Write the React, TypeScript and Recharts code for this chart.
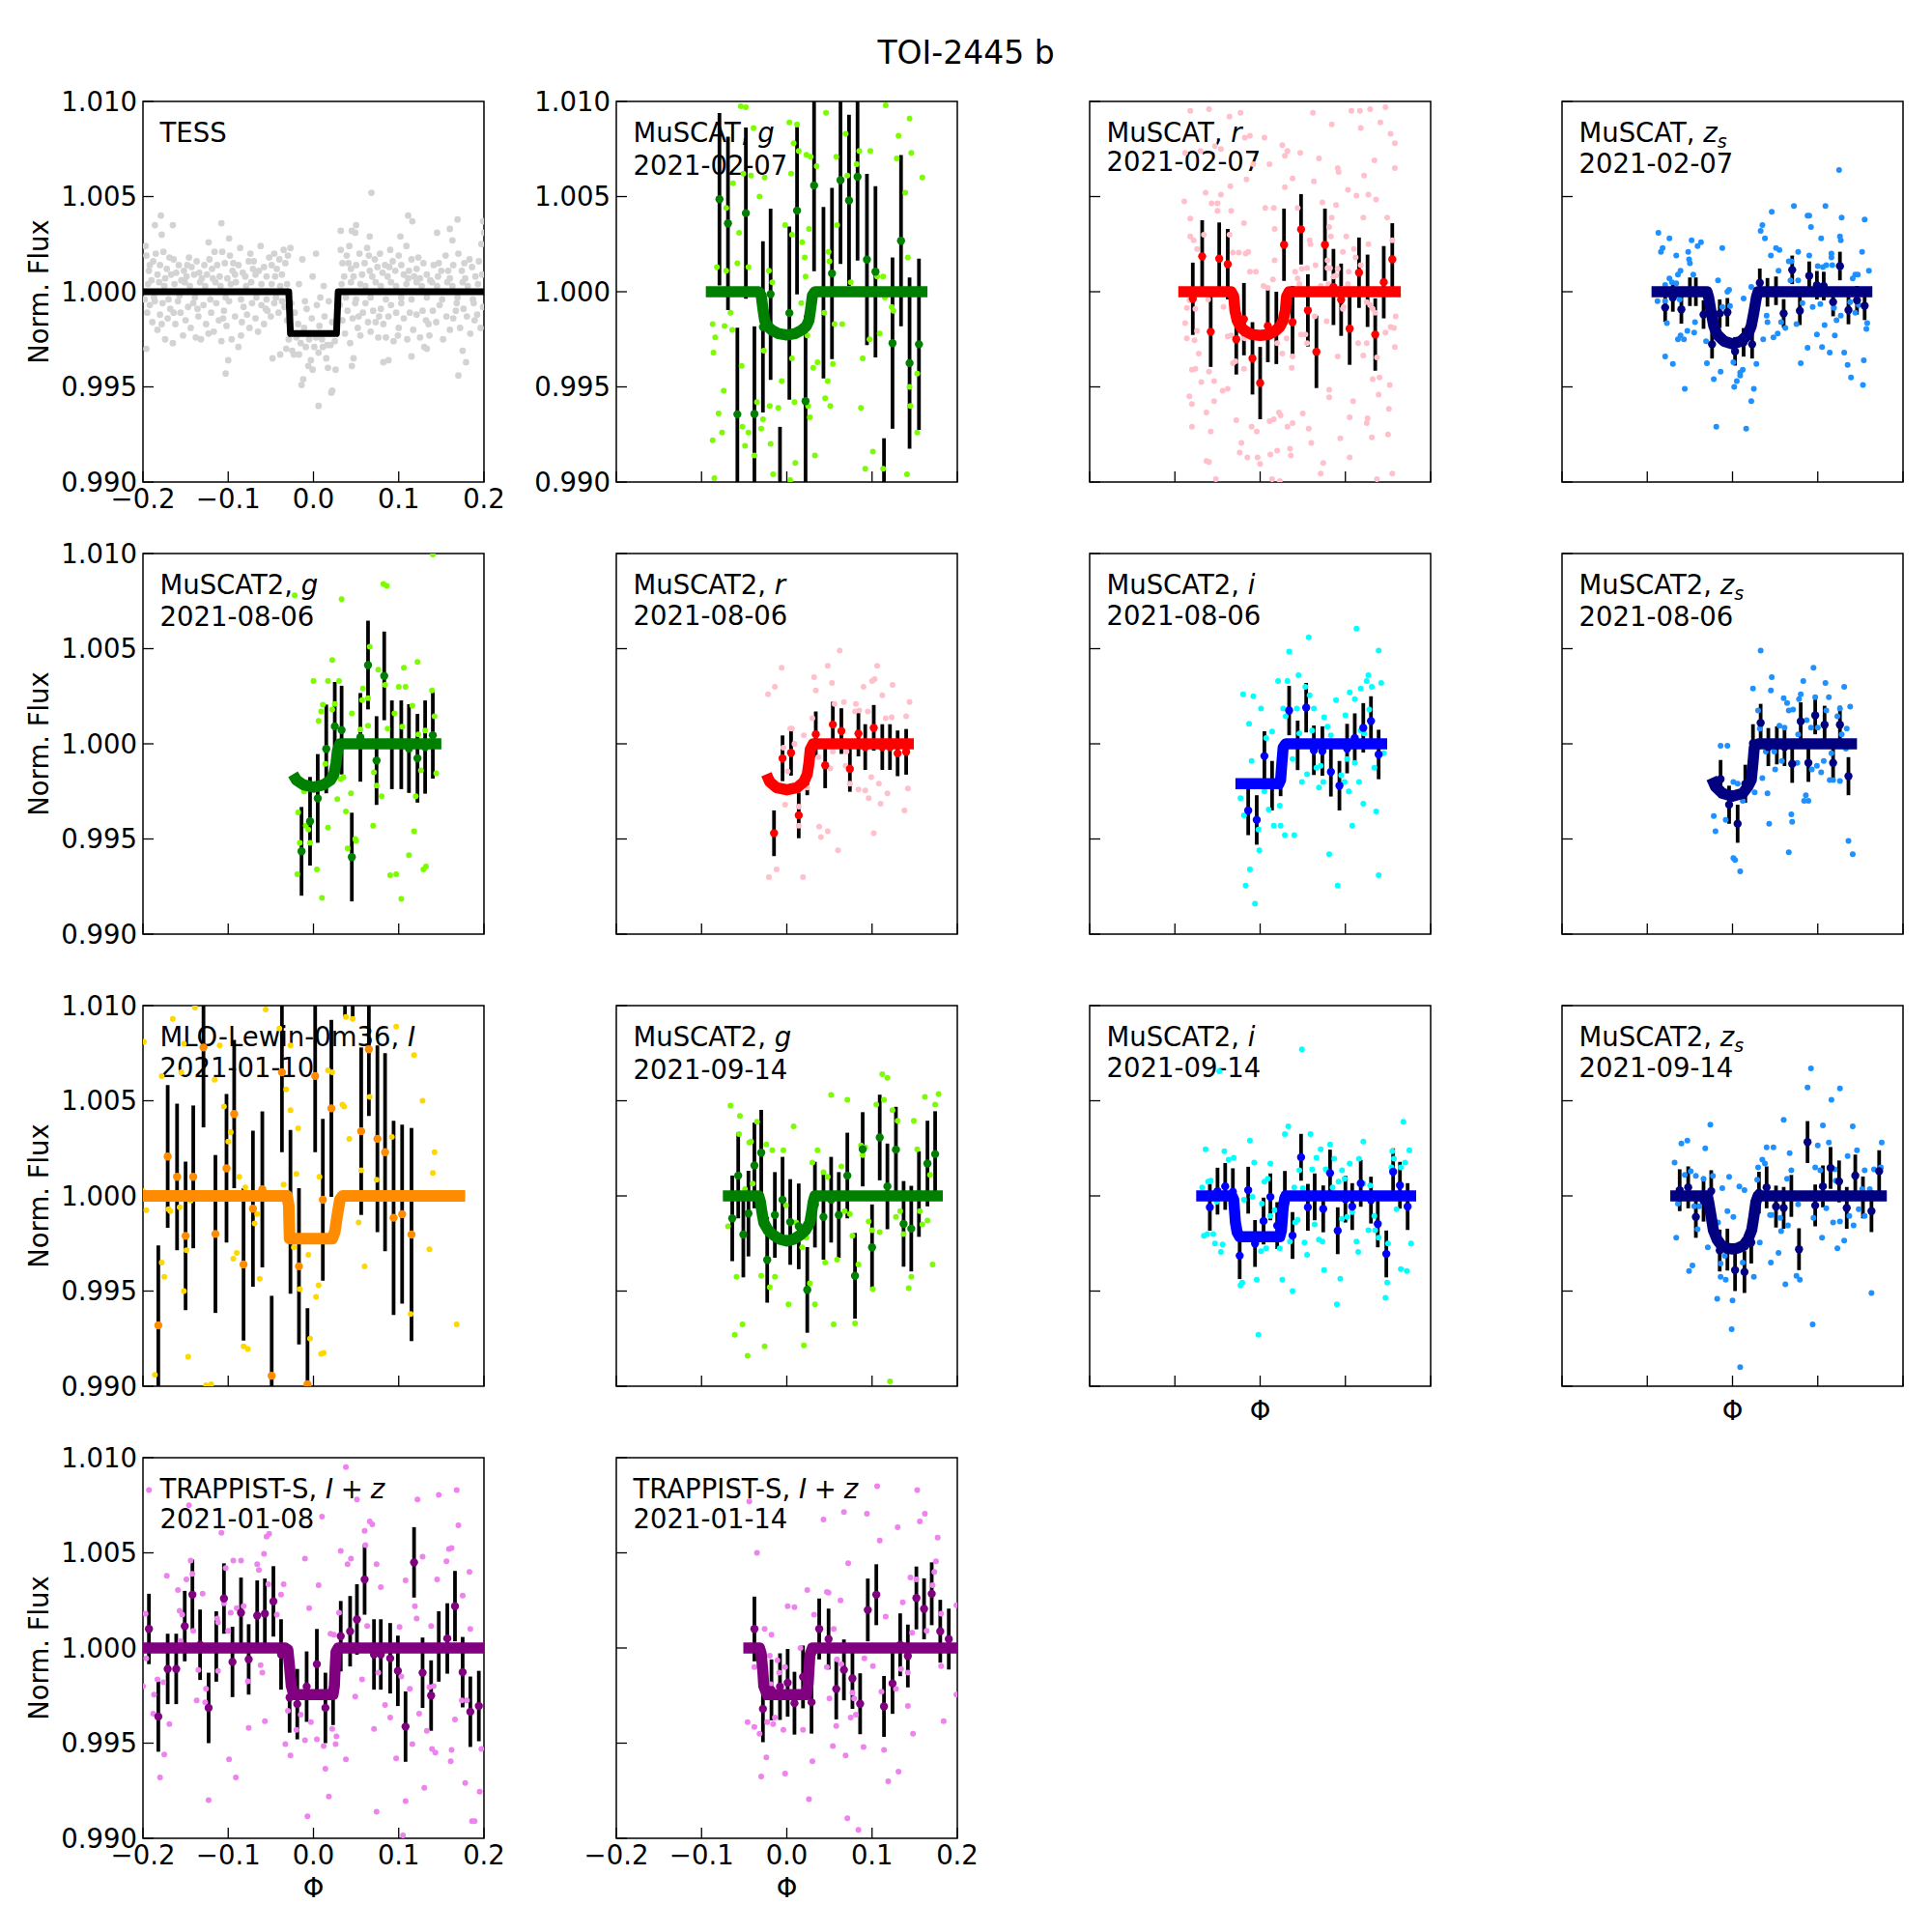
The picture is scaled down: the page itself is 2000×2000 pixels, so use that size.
import React from "react";
import { ComposedChart, Scatter, Line, XAxis, YAxis, ErrorBar, ReferenceArea } from "recharts";

// phase in units of 0.001, flux offset from 1 in parts per thousand
const tessRaw = [[68,5.2],[-179,4.0],[-186,3.5],[-165,3.5],[-178,3.0],[-108,3.6],[-99,2.8],[-123,2.6],[111,4.0],[116,3.7],[169,3.8],[160,3.3],[145,3.1],[50,3.5],[45,3.2],[49,3.1],[32,3.2],[66,2.9],[102,2.9],[163,2.7],[199,3.7],[200,3.1],[197,2.5],
[-100,-3.6],[-103,-4.3],[6,-6],[22,-5.2],[21,-5.3],[-12,-4.6],[-14,-4.9],[170,-4.4],[179,-3.7],[175,-3.1],[-196,-3],[-48,-3.5],[-39,-3.3],[-32,-3.0],[-25,-3.1],[-23,-3.3],[-6,-3.9],[-3,-3.6],[-1,-4.1],[15,-3.5],[26,-4.1],[17,-4.0],[45,-3.9],[47,-3.5],[82,-3.7],[88,-3.6],[130,-2.9],[115,-3.4],[133,-3.0],
[-197,2.4],[-196,1.9],[-193,1.1],[-190,0.6],[-188,1.6],[-185,2.0],[-183,0.9],[-180,1.4],[-176,2.1],[-174,0.7],[-172,1.2],[-169,1.8],[-167,0.9],[-164,1.7],[-161,1.0],[-158,1.4],[-155,0.6],[-152,1.1],[-149,0.8],[-146,1.8],[-143,1.3],[-140,0.9],[-137,1.6],[-134,1.0],[-131,0.7],[-128,1.4],[-125,0.9],[-122,1.7],[-119,1.2],[-116,2.1],[-113,1.4],[-110,0.8],[-107,2.1],[-104,1.5],[-101,0.7],[-98,1.9],[-95,1.1],[-92,0.9],[-88,1.4],[-86,2.3],[-83,1.0],[-80,0.8],[-76,1.6],[-74,2.0],[-71,1.2],[-68,0.9],[-64,1.1],[-62,2.4],[-58,1.3],[-55,0.8],[-52,1.8],[-49,1.4],[-46,2.0],[-43,1.2],[-40,1.7],[-37,0.9],
[32,2.2],[34,1.5],[36,0.8],[39,1.9],[42,2.4],[44,1.2],[47,0.8],[50,1.4],[54,2.0],[57,0.9],[60,1.5],[63,2.3],[66,1.1],[69,0.8],[72,1.7],[75,1.3],[78,2.0],[81,1.0],[84,1.4],[87,0.8],[90,2.2],[93,1.6],[96,1.1],[100,1.9],[103,1.4],[106,0.9],[109,2.4],[112,1.1],[115,1.7],[118,0.8],[121,1.2],[125,0.7],[129,1.5],[133,0.9],[137,0.6],[141,1.4],[146,0.8],[150,1.1],[155,1.9],[160,0.7],[164,1.4],[170,2.0],[174,1.1],[178,0.7],[183,1.7],[186,1.3],[190,0.8],[194,1.6],[198,0.9],
[-198,-0.4],[-195,-1.1],[-192,-0.7],[-189,-1.6],[-186,-0.5],[-183,-2.0],[-180,-1.2],[-177,-0.6],[-174,-2.5],[-171,-1.4],[-168,-0.9],[-165,-2.7],[-162,-1.7],[-159,-0.5],[-156,-1.1],[-153,-2.3],[-150,-1.5],[-147,-0.8],[-144,-1.9],[-141,-0.6],[-138,-2.4],[-135,-1.3],[-132,-2.5],[-129,-0.7],[-126,-1.7],[-123,-2.2],[-120,-1.1],[-117,-2.1],[-114,-0.6],[-111,-1.5],[-108,-2.6],[-105,-1.0],[-102,-1.8],[-99,-0.5],[-96,-2.5],[-92,-1.3],[-88,-2.9],[-85,-2.3],[-82,-0.8],[-78,-1.2],[-75,-1.9],[-72,-0.6],[-68,-1.4],[-65,-2.1],[-61,-0.7],[-58,-1.7],[-54,-1.0],[-50,-1.3],[-46,-0.6],[-41,-1.1],[-37,-0.5],
[-26,-0.6],[-22,-1.1],[-18,-1.7],[-15,-2.7],[-11,-1.9],[-8,-0.9],[-5,-2.5],[-2,-1.4],[1,-2.9],[4,-0.7],[7,-1.8],[10,-2.5],[13,-1.3],[16,-2.8],[19,-2.2],[22,-1.6],[25,-2.6],
[31,-0.7],[34,-1.5],[37,-2.2],[40,-1.0],[43,-2.7],[46,-1.4],[49,-0.6],[52,-1.9],[55,-2.3],[58,-1.1],[61,-0.6],[64,-1.6],[67,-2.1],[70,-1.0],[73,-1.6],[76,-2.4],[79,-0.9],[82,-1.7],[85,-2.4],[88,-1.3],[91,-0.7],[94,-2.6],[97,-1.1],[100,-1.9],[103,-0.6],[106,-1.4],[110,-2.5],[113,-1.1],[117,-2.0],[121,-1.2],[125,-2.4],[128,-1.0],[132,-1.5],[136,-2.3],[140,-1.0],[144,-1.6],[148,-0.7],[152,-2.5],[156,-1.3],[160,-2.0],[164,-1.4],[168,-0.6],[172,-1.9],[176,-0.9],[180,-1.3],[184,-2.2],[188,-0.6],[192,-1.2],[196,-1.9],[199,-0.8]];
const tessRawNearLine = [[-194,0.4],[-187,-0.3],[-181,0.5],[-175,0.3],[-170,-0.4],[-163,0.4],[-157,-0.2],[-151,0.5],[-145,0.3],[-139,-0.3],[-133,0.5],[-127,0.3],[-121,-0.4],[-115,0.5],[-109,0.3],[-103,-0.3],[-97,0.4],[-91,0.5],[-85,-0.4],[-79,0.3],[-73,0.5],[-67,-0.3],[-61,0.4],[-55,-0.4],[-49,0.4],[-44,-0.3],[-39,0.3],[-34,-0.8],[-31,0.4],[-33,1.5],[-35,2.2],[-30,1.9],[-27,2.3],[-31,-1.5],
[33,0.4],[38,-0.3],[44,0.5],[50,-0.4],[55,0.4],[61,0.3],[67,-0.3],[73,0.5],[79,0.3],[85,-0.4],[91,0.5],[97,0.3],[103,-0.3],[109,0.4],[115,-0.4],[121,0.5],[127,0.3],[133,-0.3],[139,0.5],[145,0.3],[151,-0.4],[157,0.5],[163,0.3],[169,-0.3],[175,0.5],[181,0.3],[187,-0.4],[193,0.4],[-13,1.7],[-1,0.8],[3,2.0],[8,-0.3],[-17,0.4],[-10,-0.5],[18,-0.5],[12,0.3],
[-192,1.4],[-178,-1.7],[-164,-1.1],[-148,1.4],[-136,-0.9],[-118,0.7],[-106,-1.4],[-94,1.5],[-84,-1.6],[-70,1.6],[-56,-0.9],[-45,0.8],[41,1.5],[53,-1.3],[65,1.9],[77,-1.3],[89,1.3],[99,-2.3],[111,0.7],[123,1.8],[135,-1.7],[147,1.5],[158,1.1],[167,-1.0],[177,1.5],[189,-1.5],[-20,-2.4],[-9,-2.9],[3,-2.4],[11,-2.9],[20,-2.8],[-29,-2.5],[-17,-3.3],[6,-3.2]];
const tessModel = [[-200,0],[-29,0],[-27,-2.2],[27,-2.2],[29,0],[200,0]];

const muscatGRaw = [[-54,9.75],[-48,9.7],[-39,8.6],[3,8.9],[12,8.8],[8,7.8],[46,9.4],[116,9.8],[144,9.1],[131,8.2],[69,8.3],[85,7.4],[98,7.4],[14,7.4],[23,7.2],[28,7.1],[58,7.1],[129,7.0],[146,7.3],[35,6.6],[82,6.7],[-63,5.7],[-71,4.4],[-51,6.2],[-42,6.1],[-26,6.0],[-32,5.0],[5,6.2],[71,6.1],[59,3.5],[159,6.0],[139,5.2],[-2,3.5],[6,3.0],[-56,3.1],[26,3.3],[18,2.6],[49,2.1],[21,1.8],[-58,1.5],[-82,1.3],[-71,1.1],[-45,1.3],[-21,1.1],[50,1.6],[142,1.8],[22,.8],[75,.5],[-17,.5],[113,.8],[106,.8],[115,-.3],[123,-.8],[125,-1.0],[17,-.6],[-66,-1.1],[44,-1.1],[56,-1.7],[65,-1.7],[-87,-1.7],[-73,-1.8],[-64,-2.0],[-84,-2.4],[-86,-3.2],[24,-2.3],[109,-2.2],[97,-2.5],[-27,-3.1],[89,-3.5],[-53,-3.9],[6,-3.5],[36,-3.7],[54,-3.8],[31,-4.0],[48,-4.7],[-6,-4.7],[153,-4.3],[144,-5.0],[-74,-5.2],[45,-5.6],[51,-6.0],[-35,-5.8],[-20,-6.0],[-10,-6.1],[9,-5.8],[25,-6.0],[87,-6.1],[145,-6.0],[-80,-6.4],[27,-6.6],[-28,-6.7],[-52,-7.1],[-30,-7.2],[-76,-7.4],[-45,-7.4],[153,-7.4],[-87,-7.8],[-49,-8.1],[-19,-8.0],[101,-8.4],[33,-8.6],[-38,-8.6],[10,-9.0],[92,-9.3],[113,-9.3],[141,-9.6],[-16,-9.6],[-85,-9.8],[4,-9.9]];
const muscatGBins = [[-79,4.86,4.53],[-69,3.59,4.56],[-58,-6.44,4.55],[-48,4.13,4.5],[-38,-6.42,4.6],[-28,-1.85,4.5],[-19,-0.13,4.5],[-8,-11.7,4.6],[3,-1.12,4.55],[12,4.26,4.4],[22,-5.75,4.5],[32,5.58,4.5],[43,-0.05,4.5],[53,0.96,4.5],[63,5.86,4.4],[73,4.8,4.5],[83,6.04,4.4],[94,1.69,4.5],[104,1.05,4.5],[114,-12.3,4.6],[124,-2.7,4.5],[134,2.68,4.5],[144,-3.75,4.5],[155,-2.76,4.5]];
const muscatGModel = [[-95,0],[-33,0],[-30,-.2],[-28,-.9],[-26,-1.5],[-23,-1.8],[-18,-2],[-10,-2.2],[0,-2.27],[10,-2.2],[18,-2],[23,-1.8],[26,-1.5],[28,-.9],[30,-.2],[33,0],[165,0]];

const muscatRRaw = [[-82,9.5],[-60,9.6],[-36,9.2],[-23,9.4],[62,9.4],[107,9.5],[117,9.5],[129,9.6],[147,9.7],[141,8.9],[84,8.8],[118,8.6],[153,8.3],[158,7.8],[5,8.1],[-12,8.2],[-18,8.1],[26,7.7],[32,7.4],[-53,7.65],[-88,7.3],[-70,7.4],[29,7.15],[47,7.3],[69,7.0],[-46,7.5],[11,6.7],[-8,6.7],[91,6.5],[134,6.9],[158,6.5],[92,6.3],[122,6.1],[-16,5.9],[63,5.8],[38,5.95],[29,5.5],[-35,5.55],[-64,5.2],[-46,5.1],[103,5.35],[113,5.05],[127,5.1],[136,4.85],[-89,4.75],[-57,4.65],[-50,4.65],[89,4.55],[73,4.7],[-34,4.25],[-50,4.25],[-82,3.85],[6,4.4],[16,4.4],[44,4.4],[84,3.9],[121,3.9],[149,3.9],[-19,3.6],[81,3.4],[17,3.3],[-66,3],[-36,3],[-82,2.9],[-78,2.7],[83,2.9],[101,2.9],[58,2.7],[155,2.7],[127,2.5],[59,2.5],[110,2.25],[-74,2.25],[97,2.1],[-32,2.05],[-25,2.05],[-14,2.1],[-17,2],[17,1.65],[79,1.65],[91,1.2],[112,1.8],[-12,1.05],[-5,1.05],[41,1.05],[49,1.2],[55,1.25],[65,1.4],[82,1.25],[79,1.25],[104,1.05],[118,1.4],[15,.65],[86,.8],[89,.85],[44,.7],[46,.4],[4,.3],[9,.2],[71,.3],[80,.4],[97,.15],[103,.4],[-83,-.45],[-61,-.4],[-76,-.9],[-43,-.8],[-86,-.85],[97,-.9],[98,-.8],[125,-.55],[129,-.7],[132,-.9],[135,-1.1],[159,-1.3],[64,-1.3],[78,-1.55],[-88,-1.65],[-74,-2.05],[-34,-2.3],[-38,-2.35],[-86,-2.45],[-77,-2.55],[-18,-2.45],[1,-2.4],[20,-2.7],[31,-2.45],[48,-2.25],[53,-2.25],[55,-2.7],[115,-2.7],[125,-2.7],[147,-2.15],[153,-1.85],[157,-1.9],[158,-2.9],[-72,-3.25],[26,-3.25],[38,-3.4],[91,-3.4],[121,-3.35],[137,-3.45],[-29,-3.65],[-32,-3.75],[-19,-4.05],[-80,-4.1],[-76,-4.05],[-60,-4.2],[37,-4],[-69,-4.75],[-54,-4.7],[132,-4.6],[140,-4.5],[-44,-5.2],[-38,-5.1],[81,-5.15],[152,-4.9],[-83,-5.5],[81,-5.55],[139,-5.4],[-54,-5.75],[-80,-5.9],[109,-5.75],[151,-6.15],[-63,-6.35],[22,-6.35],[24,-6.5],[50,-6.4],[105,-6.6],[126,-6.65],[125,-6.9],[-28,-6.75],[16,-6.7],[11,-6.8],[38,-6.9],[-80,-7.1],[32,-7.1],[57,-7.2],[-10,-7.1],[-58,-7.35],[-4,-7.35],[131,-7.65],[150,-7.5],[94,-7.7],[-22,-7.95],[60,-7.95],[-24,-8.45],[20,-8.35],[35,-8.25],[36,-8.6],[12,-8.55],[-15,-8.7],[-3,-8.7],[105,-8.7],[-63,-8.9],[-60,-8.95],[0,-9.05],[74,-9],[71,-9.55],[155,-9.55],[-52,-9.85],[14,-9.85],[23,-9.95],[137,-9.85]];
const muscatRBins = [[-79,-.37,1.9],[-68,1.86,1.9],[-58,-2.1,1.85],[-48,1.74,1.9],[-38,1.45,1.85],[-28,-2.5,1.85],[-19,-1.44,1.9],[-9,-3.5,1.9],[0,-4.8,1.9],[9,-1.8,1.9],[19,-1.9,1.9],[28,2.47,1.9],[38,-1.6,1.9],[48,3.28,1.85],[56,-.98,1.9],[66,-3.16,1.9],[76,2.47,1.9],[86,.25,2],[95,-.42,1.9],[105,-1.94,1.9],[116,1,1.85],[126,.05,1.9],[135,-2.25,1.9],[145,.5,1.9],[155,1.7,1.9]];
const muscatRModel = [[-96,0],[-34,0],[-31,-.25],[-29.5,-1],[-27,-1.5],[-23,-1.85],[-18,-2.05],[-10,-2.25],[0,-2.3],[10,-2.25],[18,-2.05],[23,-1.85],[27,-1.5],[29.5,-1],[31,-.25],[34,0],[165,0]];

const muscatZRaw = [[125,6.4],[72,4.5],[109,4.5],[46,4.2],[88,4.0],[90,4],[128,3.9],[155,3.8],[35,3.5],[33,3.2],[92,3.4],[-87,3.1],[-74,2.8],[-48,2.7],[-37,2.6],[-41,2.4],[38,2.8],[104,2.8],[126,2.9],[127,2.7],[-82,2.3],[-84,2.1],[-52,2.1],[-12,2.3],[51,2.3],[55,2.2],[77,2.1],[152,2.1],[-66,1.9],[-51,1.7],[-50,1.5],[45,1.9],[90,1.9],[116,2],[116,1.8],[66,1.6],[69,1.6],[100,1.35],[110,1.4],[117,1.4],[106,1.3],[127,1.3],[54,1.1],[144,.9],[147,.9],[141,.7],[160,1.1],[-61,1.1],[-64,.9],[-46,.9],[-74,.7],[-71,.5],[-66,.45],[-79,.35],[-17,.6],[77,.6],[68,.6],[-4,.1],[-6,0],[22,.25],[-71,-.35],[-79,-.5],[-62,-.4],[-88,-.5],[13,-.35],[-12,-.8],[-3,-.75],[40,-1.25],[82,-.6],[94,-.8],[103,-.65],[119,-.85],[138,-.55],[144,-1.1],[148,-.7],[122,-1.5],[127,-1.25],[158,-1.65],[-77,-1.65],[-44,-1.6],[41,-1.6],[57,-1.6],[62,-1.9],[75,-1.7],[108,-1.75],[157,-1.95],[-53,-2.05],[-45,-2.15],[-61,-2.3],[-64,-2.5],[-57,-2.5],[-31,-2.6],[-4,-2.8],[36,-2.5],[48,-2.4],[53,-2.2],[99,-2.25],[120,-2.3],[88,-2.95],[105,-2.9],[114,-3.2],[131,-3.2],[-79,-3.4],[-70,-3.8],[-30,-3.75],[80,-3.75],[28,-3.8],[135,-3.85],[154,-3.6],[-14,-4.2],[1,-3.7],[12,-4.1],[9,-4.25],[9,-4.4],[-22,-4.6],[5,-4.7],[139,-4.5],[2,-5],[25,-5.1],[-56,-5.1],[153,-4.9],[22,-5.75],[-19,-7.1],[16,-7.2]];
const muscatZBins = [[-79,-.83,.75],[-70,-.3,.75],[-60,-.93,.75],[-50,0,.75],[-43,0,.75],[-34,-1.2,.75],[-24,-2.76,.75],[-15,-1.15,.75],[-6,-1.08,.75],[3,-3.13,.75],[13,-2.66,.75],[23,-2.76,.75],[32,.47,.75],[41,-.03,.75],[51,.05,.75],[60,-1.14,.75],[70,1.15,.75],[79,-1,.75],[90,.84,.75],[99,.34,.75],[107,.3,.75],[118,-.54,.75],[126,1.35,.75],[136,-.96,.75],[146,-.45,.75],[155,-.74,.75]];
const muscatZModel = [[-95,0],[-30,0],[-28,-.3],[-25,-1.1],[-22,-1.8],[-18,-2.25],[-10,-2.6],[0,-2.74],[10,-2.6],[18,-2.25],[22,-1.8],[25,-1.1],[28,-.3],[30,0],[164,0]];

const m2gAugRaw = [[140,9.95],[82,8.4],[86,8.3],[-22,7.8],[33,7.6],[22,4.4],[122,4.3],[106,4],[76,3.9],[66,5.1],[0,3.3],[17,3.3],[30,3.3],[100,3],[108,3],[84,3.1],[58,2.9],[139,2.8],[64,2.4],[57,2.3],[25,2.1],[11,2.05],[116,2],[22,1.8],[9,1.7],[45,1.6],[95,1.6],[6,1.2],[142,1.45],[64,.95],[104,.9],[87,.8],[55,.75],[131,.7],[123,.5],[14,-1.05],[126,-1.4],[144,-1.55],[71,-1.5],[35,-1.75],[32,-1.85],[74,-2.2],[-11,-2.5],[44,-2.6],[28,-2.9],[80,-2.75],[120,-2.75],[38,-3.55],[-18,-3.6],[70,-4.3],[17,-4.4],[-9,-4.3],[-6,-4.5],[118,-4.6],[49,-5],[50,-5.1],[-16,-5.2],[-4,-5.2],[40,-5.5],[112,-5.85],[4,-6.6],[132,-6.45],[129,-6.6],[-19,-6.85],[90,-6.9],[97,-6.85],[10,-8.1],[103,-8.15]];
const m2gAugBins = [[-14,-5.65,2.33],[-4,-4.07,2.33],[5,-2.87,2.33],[15,-.27,2.33],[25,.92,2.33],[33,.72,2.33],[45,-5.95,2.33],[55,.34,2.33],[64,4.14,2.33],[74,-.88,2.33],[83,3.57,2.33],[92,-.05,2.33],[103,-.05,2.33],[112,-.25,2.33],[122,-.76,2.33],[131,-.17,2.45],[140,.45,2.28]];
const m2gAugModel = [[-24,-1.6],[-20,-1.9],[-12,-2.15],[0,-2.28],[12,-2.15],[20,-1.9],[24,-1.6],[26.5,-1],[28,-.4],[31,0],[150,0]];

const m2rAugRaw = [[62,4.9],[-6,4],[48,4.1],[106,4.1],[32,3.5],[53,3.2],[103,3.4],[100,3.3],[-14,3],[124,3.1],[90,3],[-22,2.6],[34,2.8],[112,2.55],[56,2.1],[67,2.2],[81,2.1],[144,2.2],[80,1.7],[85,1.75],[95,1.7],[30,1.35],[116,1.35],[123,1.4],[140,1.45],[4,.8],[6,.8],[20,.45],[-4,-.2],[9,0],[54,-.4],[70,-.4],[37,-.7],[1,-1.45],[51,-1.3],[69,-1.15],[99,-1.75],[74,-2.1],[24,-2.3],[84,-2.4],[92,-2.45],[108,-2.1],[118,-2.6],[142,-2.35],[96,-2.85],[110,-3.15],[-2,-3.2],[14,-3.3],[138,-3.5],[14,-4.3],[38,-4.35],[48,-4.6],[40,-4.9],[102,-4.7],[60,-5.6],[-12,-6.6],[-21,-7],[19,-7]];
const m2rAugBins = [[-15,-4.7,1.2],[-5,-.76,1.2],[5,-.47,1.2],[14,-3.76,1.2],[24,-1.5,1.2],[34,.5,1.2],[45,-1.13,1.2],[54,1.01,1.2],[64,.67,1.2],[74,-1.32,1.2],[84,.54,1.2],[92,-.17,1.2],[102,.84,1.2],[112,-.17,1.2],[121,-.17,1.2],[130,-.5,1.2],[140,-.42,1.2]];
const m2rAugModel = [[-24,-1.6],[-20,-2],[-12,-2.3],[0,-2.42],[12,-2.3],[20,-2],[24,-1.6],[26,-1],[27.5,-.3],[31,0],[149,0]];

const m2iAugRaw = [[113,6.05],[57,5.6],[139,4.9],[34,4.85],[45,3.6],[127,3.6],[21,3.3],[32,3.3],[125,3.3],[142,3.2],[53,3],[131,3],[118,2.9],[105,2.7],[-20,2.6],[-8,2.5],[58,2.55],[111,2.35],[89,2.3],[1,1.85],[27,1.85],[43,1.85],[63,1.85],[128,1.8],[30,1.45],[75,1.4],[100,1.5],[-13,1.05],[79,.9],[118,.7],[61,.7],[14,.65],[46,.55],[122,.55],[83,.45],[7,.3],[-10,-.9],[38,-.8],[102,-.8],[111,-1],[145,-.5],[66,-1.25],[71,-1.15],[134,-1.25],[55,-1.6],[95,-1.65],[99,-2],[49,-2],[74,-2],[69,-2.3],[116,-2],[5,-2.5],[104,-2.5],[-23,-2.85],[23,-3.25],[10,-3.45],[121,-3.15],[136,-3.55],[-19,-3.75],[16,-4.3],[24,-4.3],[-2,-4.5],[108,-4.3],[29,-4.8],[40,-4.8],[-1,-5.6],[81,-5.8],[-12,-6.6],[139,-6.9],[-17,-7.45],[91,-7.45],[-6,-8.4]];
const m2iAugBins = [[-14,-3.5,1.3],[-4,-4,1.3],[5,-.64,1.3],[14,-2.2,1.3],[24,-1.45,1.3],[34,1.75,1.3],[44,-.08,1.3],[54,1.9,1.3],[63,-.34,1.3],[73,-.38,1.3],[83,-1.47,1.3],[93,-2.2,1.3],[102,-.25,1.3],[111,.3,1.3],[121,.84,1.3],[130,1.2,1.3],[139,-.56,1.3]];
const m2iAugModel = [[-29,-2.1],[22,-2.1],[24,-1.9],[25.5,-1],[27,-.2],[30,0],[149,0]];

const m2zAugRaw = [[33,4.9],[95,4],[46,3.5],[83,3.3],[109,3.2],[131,3],[24,2.9],[45,2.8],[80,2.6],[60,2.4],[78,2.35],[97,2.45],[113,2.45],[64,2.15],[71,1.8],[66,1.75],[30,1.75],[126,1.85],[138,1.95],[110,1.75],[123,1.45],[87,1.25],[55,.95],[61,.85],[32,.8],[92,.85],[100,.85],[134,.8],[77,.5],[128,.5],[-14,-.1],[-6,-.1],[39,-.4],[49,-.4],[116,-.5],[133,-.25],[58,-.9],[76,-1],[99,-1.15],[107,-.9],[50,-1.35],[93,-1.35],[104,-1.5],[35,-1.8],[114,-1.9],[118,-1.9],[126,-1.95],[1,-2],[6,-2.1],[26,-2.55],[41,-2.6],[86,-2.7],[84,-3],[89,-3],[12,-3],[-22,-3.8],[-8,-4],[69,-3.7],[70,-4.1],[43,-4.2],[-20,-4.6],[136,-5.1],[141,-5.8],[66,-5.7],[1,-6],[3,-6.1],[9,-6.7]];
const m2zAugBins = [[-14,-1.85,1],[-4,-3.2,1],[6,-4.2,1],[15,-2.1,1],[24,.03,1],[33,1.1,1],[42,-.17,1],[52,-.08,1],[61,-.17,1],[70,-1.05,1],[80,1.18,1],[89,-1,1],[97,1.5,1],[108,1,1],[118,-1,1],[126,1,1],[136,-1.7,1]];
const m2zAugModel = [[-24.5,-1.8],[-20,-2.25],[-12,-2.6],[0,-2.75],[12,-2.6],[18,-2.25],[22,-1.9],[24,-1],[25.5,-.2],[30,0],[146,0]];

const mloRaw = [[-139,9.9],[-165,9.3],[-56,9.8],[-40,8.8],[-199,8.1],[38,9.4],[46,9.3],[97,8.9],[-152,8],[-110,7.9],[-27,7.9],[118,7.4],[-155,6.5],[-178,6.3],[-116,6.1],[17,6.6],[22,6.5],[-32,5.6],[66,5.2],[128,5],[-105,4.7],[-27,4.5],[34,4.8],[36,4.7],[-18,3.55],[-97,3.35],[-100,2.85],[42,3],[92,3.1],[142,2.3],[56,1.35],[-20,1.15],[140,1.2],[-87,1],[7,1],[74,.85],[-35,.6],[-80,.45],[-200,.25],[-144,-.25],[-157,-.6],[-170,-.7],[-168,-.8],[-196,-.75],[-66,-.95],[53,-1.4],[-69,-1.45],[-149,-2.85],[136,-2.8],[-90,-3],[-94,-3.3],[-6,-3.1],[-23,-2.7],[-178,-3.5],[60,-3.7],[-175,-4.25],[-63,-4.35],[6,-4.7],[-152,-5],[-16,-4.9],[3,-5.3],[114,-6.2],[168,-6.75],[-4,-7.5],[-82,-7.9],[-77,-8.05],[-147,-8.45],[12,-8.25],[9,-8.3],[-186,-9.4],[-126,-9.95],[-120,-9.9]];
const mloBins = [[-182,-6.8,4.2],[-171,2.07,3.75],[-160,1,3.85],[-150,-2.1,3.9],[-141,1,3.75],[-129,7.8,4.2],[-115,-2,4.15],[-102,1.45,3.9],[-93,4.3,3.9],[-82,-3.6,4.0],[-71,-.67,4.1],[-60,.34,4.1],[-49,-9.45,4.2],[-37,6.5,4.2],[-27,-.84,4.3],[-17,-3.7,4.1],[-7,-9.9,4.0],[2,6.3,4],[11,-.2,4.25],[21,4.6,4.65],[37,13.6,4.2],[46,13.5,4.2],[56,3.4,4.4],[65,7.7,3.5],[75,3,4.9],[84,2.3,5.2],[94,-1.15,5.1],[104,-.96,4.7],[115,-2.03,5.6]];
const mloModel = [[-200,0],[-31,0],[-29,-.5],[-28,-2.25],[22,-2.25],[25,-1.9],[28,-1],[31,-.2],[34,0],[178,0]];

const m2gSepRaw = [[112,6.4],[118,6.2],[-66,4.75],[52,5.3],[71,5.05],[162,5.2],[178,5.35],[174,4.8],[105,4.8],[114,5.05],[124,4.5],[-55,4.2],[-35,3.9],[130,3.95],[149,3.95],[8,3.65],[-56,3.25],[-44,2.8],[-42,2.85],[-24,2.7],[-17,2.4],[-4,2.4],[36,2.4],[87,2.65],[92,2.55],[89,2.15],[153,2.45],[30,1.75],[43,1.25],[64,1.55],[48,1],[168,1.1],[-40,.65],[-49,.35],[-1,-.5],[68,-.8],[74,-.95],[133,-.8],[156,-.8],[128,-1.1],[159,-1.5],[165,-1.3],[96,-1.35],[-69,-1.6],[11,-1.4],[100,-1.8],[109,-1.9],[137,-2],[77,-2.1],[23,-2.2],[18,-2.7],[59,-3.35],[45,-3.5],[84,-3.6],[171,-3.6],[-59,-4.25],[-30,-4.2],[-14,-4.25],[146,-4.25],[-20,-4.8],[27,-4.6],[143,-4.85],[101,-4.9],[2,-5.7],[33,-5.7],[55,-6.75],[80,-6.7],[-52,-6.75],[-61,-7.3],[-26,-7.9],[20,-7.85],[-46,-8.4],[121,-9.75]];
const m2gSepBins = [[-64,-1.18,2.25],[-57,1.07,2.25],[-51,-2.03,2.25],[-45,-.93,2.25],[-38,1.6,2.25],[-30,2.27,2.25],[-23,-3.36,2.25],[-14,-1,2.25],[-5,-.2,2.25],[4,-1.37,2.25],[14,-1.6,2.25],[24,-4.94,2.25],[33,-.46,2.25],[43,-1.1,2.25],[52,-.2,2.25],[61,-1,2.25],[71,1.07,2.25],[80,-4.2,2.25],[89,2.45,1.95],[100,-2.7,2.25],[109,3.07,2.25],[118,.5,2.25],[128,2.43,2.25],[137,-1.47,2.25],[146,-1.72,2.25],[155,.1,2.25],[165,1.7,2.25],[174,2.2,2.25]];
const m2gSepModel = [[-75,0],[-33,0],[-31,-.3],[-29,-.9],[-27,-1.4],[-22,-1.8],[-16,-2.05],[-8,-2.28],[0,-2.37],[8,-2.28],[16,-2.05],[22,-1.8],[27,-1.4],[29,-.9],[31,-.3],[33,0],[183,0]];

const m2iSepRaw = [[49,7.7],[-48,6.55],[168,3.9],[33,3.65],[29,3.25],[59,3.25],[-12,2.9],[121,2.85],[82,2.7],[-64,2.45],[71,2.45],[155,2.35],[175,2.4],[-42,2.35],[-31,2],[-37,1.9],[66,2],[87,1.95],[157,1.95],[-7,1.75],[12,1.7],[105,1.7],[116,1.95],[170,1.75],[165,1.5],[154,1.5],[61,1.4],[77,1.4],[46,1.35],[96,1.35],[99,.9],[92,.75],[9,.9],[5,.75],[-58,.8],[-61,.75],[-68,.45],[40,.45],[50,.4],[121,.65],[129,.55],[85,.45],[-51,-.3],[-19,-.2],[-9,-.05],[2,-.4],[12,-1.05],[17,-.75],[108,-.85],[102,-1.1],[96,-1.2],[134,-1.05],[160,-.7],[44,-1.25],[41,-1.4],[64,-1.5],[127,-1.8],[135,-1.8],[-66,-2.1],[-62,-2],[-55,-2],[139,-2.2],[-53,-2.5],[-44,-2.55],[35,-2.4],[52,-2.45],[69,-2.3],[73,-2.4],[113,-2.4],[150,-2.5],[177,-2.5],[-46,-2.95],[1,-2.9],[7,-2.75],[23,-2.75],[55,-3.1],[115,-2.95],[75,-3.9],[165,-3.85],[172,-3.95],[-4,-4.4],[26,-4.4],[94,-4.35],[-21,-4.55],[-23,-4.7],[38,-5],[149,-4.55],[147,-5.35],[90,-5.7],[-2,-7.3]];
const m2iSepBins = [[-59,-.6,1.23],[-50,.25,1.23],[-41,.5,1.23],[-32,.22,1.23],[-24,-3.14,1.23],[-14,.3,1.23],[-6,-2.5,1.23],[4,-1.32,1.23],[12,-.05,1.23],[20,-1.56,1.23],[29,.08,1.23],[38,-2.08,1.23],[48,2.03,1.23],[56,-.6,1.23],[64,-.05,1.23],[74,-.68,1.23],[82,1.2,1.23],[91,-1.83,1.23],[100,-.17,1.23],[108,-.56,1.23],[118,.66,1.23],[130,-.22,1.23],[138,-1.47,1.23],[148,-3.05,1.23],[156,1.27,1.23],[164,.56,1.23],[173,-.56,1.23]];
const m2iSepModel = [[-75,0],[-33,0],[-31,-.2],[-29,-1.4],[-27,-1.9],[-24,-2.15],[23,-2.15],[25,-1.8],[27,-.6],[29,-.1],[32,0],[183,0]];

const m2zSepRaw = [[92,6.7],[88,5.7],[126,5.65],[116,5.05],[60,4],[-26,3.75],[106,3.7],[141,3.65],[-53,2.9],[-60,2.75],[175,2.8],[40,2.55],[48,2.55],[-32,2.5],[100,2.65],[113,2.8],[67,2.25],[146,2.4],[135,2.1],[-68,1.75],[35,1.9],[38,1.7],[30,1.5],[97,1.5],[69,1.35],[103,1.35],[120,1.4],[155,1.35],[166,1.4],[174,1.5],[-49,1.3],[-56,1.1],[-43,1.05],[-34,.9],[-23,1.05],[-4,1],[64,.9],[29,.85],[121,.8],[-12,.4],[8,.5],[14,.3],[152,.35],[161,.35],[-64,-.4],[-45,-.55],[-39,-.55],[77,-.45],[110,-.65],[44,-1],[46,-1],[-6,-.8],[1,-1.1],[56,-1.15],[95,-1.15],[148,-.7],[137,-1.05],[155,-1.05],[118,-1.4],[126,-1.35],[142,-1.55],[-17,-1.4],[65,-1.55],[-41,-1.75],[57,-1.85],[-66,-2.2],[105,-2.2],[131,-2.35],[32,-2.45],[-29,-2.7],[123,-2.75],[54,-3],[-9,-3.15],[45,-3.5],[12,-3.5],[-47,-3.65],[-14,-3.55],[-51,-3.95],[-14,-4.25],[-8,-4.4],[25,-4.25],[75,-4.2],[79,-4.4],[62,-4.65],[163,-5.1],[-18,-5.4],[0,-5.5],[-1,-7],[94,-6.75],[9,-9]];
const m2zSepBins = [[-62,.3,1.1],[-52,.45,1.1],[-43,-1.1,1.1],[-34,-.25,1.1],[-25,.25,1.1],[-15,-2.87,1.1],[-6,-2.82,1.1],[3,-3.9,1.1],[14,-4,1.1],[22,-2.45,1.1],[31,.17,1.1],[40,.45,1.1],[51,-.56,1.1],[60,-.63,1.1],[69,0,1.1],[78,-2.8,1.1],[88,2.83,1.1],[97,-.5,1.1],[106,.5,1.1],[115,1.47,1.1],[125,.76,1.1],[134,-.63,1.1],[144,1.07,1.1],[153,-.08,1.1],[163,-.8,1.1],[172,1.3,1.1]];
const m2zSepModel = [[-73,0],[-30,0],[-28,-.3],[-25,-1.1],[-22.5,-1.8],[-18,-2.3],[-13,-2.6],[-6,-2.75],[0,-2.79],[6,-2.75],[13,-2.6],[18,-2.3],[22.5,-1.8],[25,-1.1],[27.5,-.3],[30,0],[181,0]];

const trapJan08Raw = [[38,9.5],[-193,8.3],[168,8.3],[147,8.05],[122,7.8],[51,7.8],[-146,7.5],[10,6.9],[66,6.65],[69,6.5],[170,6.45],[60,6.15],[-108,6.05],[-52,6],[-55,5.85],[61,5.4],[162,5.25],[159,5.2],[32,5.1],[-58,4.95],[44,4.7],[-10,4.7],[-94,4.6],[-85,4.6],[-144,4.6],[156,4.55],[-66,4.4],[40,4.4],[74,4.4],[128,4.8],[-103,4.2],[-64,4.1],[-142,3.9],[183,4],[-172,3.8],[-149,3.6],[145,3.6],[108,3.55],[6,3.3],[-53,3.35],[-35,3.35],[79,3.2],[-159,3.05],[-38,2.8],[-130,2.85],[175,2.75],[-5,2.1],[119,2.2],[-105,2.35],[-82,2.2],[-90,2.1],[-157,1.95],[-97,1.85],[30,1.85],[-154,1.75],[-43,1.75],[-197,1.8],[-113,1.55],[121,1.55],[-112,1.35],[63,1.15],[101,1.1],[138,1.15],[184,1],[20,.75],[24,.7],[-100,.9],[-141,.9],[-196,-.55],[-156,.35],[-62,-.9],[-60,-1.3],[-135,-1.15],[-112,-1.2],[76,-1.3],[103,-1.5],[57,-1.65],[136,-2.05],[141,-2],[-176,-1.8],[-183,-1.65],[-200,-2],[-187,-2.45],[-126,-2.15],[-77,-1.75],[113,-2.15],[49,-2.55],[-137,-2.75],[-127,-2.85],[174,-2.75],[180,-2.75],[84,-3],[-30,-3.3],[-15,-3.5],[-3,-3.9],[124,-3.45],[-188,-3.45],[90,-3.65],[-169,-4],[-57,-3.85],[166,-3.75],[-76,-4.2],[71,-4.25],[22,-4.25],[133,-4.35],[-20,-4.3],[27,-4.65],[-10,-4.85],[4,-4.8],[-33,-5.05],[26,-5.05],[12,-5.15],[116,-5.05],[197,-5.3],[139,-5.3],[143,-5.5],[162,-5.35],[-175,-5.6],[-27,-5.65],[-99,-5.85],[38,-5.85],[97,-5.8],[161,-5.95],[14,-6.35],[-180,-6.8],[-91,-6.8],[178,-7.1],[130,-7.35],[195,-7.55],[-123,-8],[18,-7.8],[108,-8.05],[74,-8.6],[-7,-8.85],[186,-9.1],[189,-9.1],[105,-9.85]];
const trapJan08Bins = [[-193,1,1.85],[-182,-3.6,1.85],[-171,-1.1,1.85],[-161,-1.1,1.85],[-151,1.15,1.85],[-142,2.8,1.85],[-133,.17,1.85],[-123,-3.15,1.85],[-114,.08,1.85],[-105,2.6,1.85],[-95,-.73,1.85],[-85,1.85,1.85],[-76,-.6,1.85],[-66,1.7,1.85],[-57,1.8,1.85],[-47,2.45,1.85],[-38,-.34,1.85],[-28,-2.6,1.85],[-19,-2.95,1.85],[-8,-2.03,1.85],[4,-.85,1.85],[14,-3.15,1.85],[23,-2.2,1.85],[32,.62,1.85],[43,.88,1.85],[51,1.5,1.85],[60,3.6,1.85],[71,-.34,1.85],[79,-.34,1.85],[90,-.54,1.85],[99,-1.2,1.85],[108,-4.13,1.85],[118,4.5,1.85],[128,-1.3,1.85],[138,-2.5,1.85],[147,.08,1.85],[157,.5,1.85],[166,2.2,1.85],[175,-1.27,1.85],[184,-3.35,1.85],[194,-3.05,1.85]];
const trapJan08Model = [[-200,0],[-33,0],[-30,-.1],[-28,-1],[-26,-2],[-23,-2.45],[23,-2.45],[24.5,-2],[25.5,-1],[26.5,-.2],[29,0],[200,0]];

const trapJan14Raw = [[106,8.5],[153,8.3],[-44,7.7],[67,7.15],[94,7.05],[162,7.05],[43,6.75],[156,6.65],[130,6.35],[109,5.65],[177,5.8],[-35,5],[72,4.45],[175,4.55],[173,4],[145,3.7],[152,3.6],[171,3.3],[24,3.05],[47,2.95],[49,2.9],[63,2.5],[136,2.4],[1,2.2],[9,2.15],[161,2.05],[32,1.75],[181,1.8],[116,1.65],[199,2.25],[-26,1],[55,1],[147,.8],[164,.9],[-18,.7],[16,0],[-11,-.65],[-20,-.4],[59,-.6],[91,-.55],[-38,-1],[-2,-1],[64,-.85],[101,-.95],[134,-1.1],[181,-.95],[-9,-1.3],[47,-1],[-30,-1.55],[142,-1.3],[-19,-1.9],[111,-2.3],[77,-2.35],[128,-2.15],[79,-2.65],[50,-2.65],[199,-2.45],[142,-3.05],[81,-3.5],[75,-3.65],[-14,-3.65],[-23,-3.9],[-46,-3.9],[-38,-4.15],[-16,-4],[58,-4.1],[184,-3.85],[-32,-4.5],[-4,-4.3],[19,-4.3],[148,-4.5],[54,-5.15],[90,-5.2],[114,-5.35],[69,-5.65],[-24,-5.75],[30,-5.95],[131,-6.5],[-30,-6.75],[-2,-6.6],[119,-7],[26,-7.95],[71,-8.95],[84,-9.55]];
const trapJan14Bins = [[-38,1,1.7],[-28,-3.2,1.75],[-18,-2.2,1.6],[-8,-2.03,1.75],[1,-1.83,1.78],[9,-2.9,1.65],[19,-1.52,1.65],[29,-2.85,1.65],[38,1,1.6],[49,.47,1.6],[58,-2.15,1.6],[67,-1.15,1.6],[77,-1.6,1.6],[86,-2.93,1.6],[95,2,1.65],[105,2.8,1.6],[114,-3.07,1.6],[124,-1.86,1.6],[133,.17,1.65],[142,-.42,1.65],[152,2.63,1.65],[161,2.06,1.6],[170,2.85,1.65],[180,.88,1.65],[190,.47,1.6]];
const trapJan14Model = [[-51,0],[-32,0],[-30,-.3],[-28,-1.3],[-27,-2],[-23,-2.45],[23,-2.45],[25,-1.9],[27,-.4],[30,0],[200,0]];

const xTicks = [-0.2, -0.1, 0, 0.1, 0.2];
const yTicks = [0.99, 0.995, 1, 1.005, 1.01];
const colLefts = [148, 638, 1127.5, 1617];
const rowTops = [104.6, 572.7, 1041, 1509];
const panelW = 353;
const panelH = 394;

const DARK_GREEN = "#008000";
const panels = [
  { row: 0, col: 0, name: "TESS", band: "", date: "", raw: [...tessRaw, ...tessRawNearLine], model: tessModel, rawColor: "#d3d3d3", color: "#000000", width: 7, dateY: 76 },
  { row: 0, col: 1, name: "MuSCAT, ", band: "g", date: "2021-02-07", raw: muscatGRaw, bins: muscatGBins, model: muscatGModel, rawColor: "#7cfc00", color: DARK_GREEN, dateY: 76 },
  { row: 0, col: 2, name: "MuSCAT, ", band: "r", date: "2021-02-07", raw: muscatRRaw, bins: muscatRBins, model: muscatRModel, rawColor: "#ffc0cb", color: "#ff0000", dateY: 72 },
  { row: 0, col: 3, name: "MuSCAT, ", band: "z", sub: "s", date: "2021-02-07", raw: muscatZRaw, bins: muscatZBins, model: muscatZModel, rawColor: "#1e90ff", color: "#000080", dateY: 74 },
  { row: 1, col: 0, name: "MuSCAT2, ", band: "g", date: "2021-08-06", raw: m2gAugRaw, bins: m2gAugBins, model: m2gAugModel, rawColor: "#7cfc00", color: DARK_GREEN, dateY: 74.5 },
  { row: 1, col: 1, name: "MuSCAT2, ", band: "r", date: "2021-08-06", raw: m2rAugRaw, bins: m2rAugBins, model: m2rAugModel, rawColor: "#ffc0cb", color: "#ff0000", dateY: 74 },
  { row: 1, col: 2, name: "MuSCAT2, ", band: "i", date: "2021-08-06", raw: m2iAugRaw, bins: m2iAugBins, model: m2iAugModel, rawColor: "#00ffff", color: "#0000ff", dateY: 73.5 },
  { row: 1, col: 3, name: "MuSCAT2, ", band: "z", sub: "s", date: "2021-08-06", raw: m2zAugRaw, bins: m2zAugBins, model: m2zAugModel, rawColor: "#1e90ff", color: "#000080", dateY: 74.5 },
  { row: 2, col: 0, name: "MLO-Lewin-0m36, ", band: "I", date: "2021-01-10", raw: mloRaw, bins: mloBins, model: mloModel, rawColor: "#ffd700", color: "#ff8c00", width: 12, dateY: 73.5 },
  { row: 2, col: 1, name: "MuSCAT2, ", band: "g", date: "2021-09-14", raw: m2gSepRaw, bins: m2gSepBins, model: m2gSepModel, rawColor: "#7cfc00", color: DARK_GREEN, dateY: 76 },
  { row: 2, col: 2, name: "MuSCAT2, ", band: "i", date: "2021-09-14", raw: m2iSepRaw, bins: m2iSepBins, model: m2iSepModel, rawColor: "#00ffff", color: "#0000ff", dateY: 74, phi: true },
  { row: 2, col: 3, name: "MuSCAT2, ", band: "z", sub: "s", date: "2021-09-14", raw: m2zSepRaw, bins: m2zSepBins, model: m2zSepModel, rawColor: "#1e90ff", color: "#000080", dateY: 74, phi: true },
  { row: 3, col: 0, name: "TRAPPIST-S, ", band: "I", plus: "z", date: "2021-01-08", raw: trapJan08Raw, bins: trapJan08Bins, model: trapJan08Model, rawColor: "#ee82ee", color: "#800080", dateY: 73, phi: true },
  { row: 3, col: 1, name: "TRAPPIST-S, ", band: "I", plus: "z", date: "2021-01-14", raw: trapJan14Raw, bins: trapJan14Bins, model: trapJan14Model, rawColor: "#ee82ee", color: "#800080", dateY: 73, phi: true },
];

const YMIN = 0.99;
const YMAX = 1.01;
const clampY = (v: number) => Math.min(YMAX, Math.max(YMIN, v));

// error bars are cut at the frame, as the axes limits do in the original
const toPoints = (rows: number[][]) =>
  rows.map(([x, y, e = 0]) => {
    const fy = 1 + y / 1000;
    const fe = e / 1000;
    return { x: x / 1000, y: fy, e: [fy - clampY(fy - fe), clampY(fy + fe) - fy] };
  });

const FONT = "'DejaVu Sans'";
const FS = 27.5;
const yAxisW = 148;
const M = { top: 20, right: 40, bottom: 0, left: 0 };
const xAxisH = 80;

const dot = (r: number, fill: string) => (p: any) => <circle cx={p.cx} cy={p.cy} r={r} fill={fill} />;
const noDot = () => <g />;
const noTick = () => <g />;

const Panel = ({ p }: { p: any }) => {
  const showX = p.row === 3 || (p.row === 0 && p.col === 0);
  const showY = p.col === 0 || (p.row === 0 && p.col === 1);
  const labelX = yAxisW + 17.5;
  const labelY = M.top + 41.5;
  const bins = p.bins ? toPoints(p.bins) : null;
  const tickStyle = { fontSize: FS, fontFamily: FONT, fill: "#000" };
  return (
    <div style={{ position: "absolute", left: colLefts[p.col] - yAxisW, top: rowTops[p.row] - M.top }}>
      <ComposedChart width={panelW + yAxisW + M.right} height={panelH + M.top + xAxisH} margin={M}>
        <XAxis
          dataKey="x"
          type="number"
          domain={[-0.2, 0.2]}
          ticks={xTicks}
          allowDataOverflow
          interval={0}
          height={xAxisH}
          axisLine={false}
          tickSize={-11}
          tickMargin={18}
          tickLine={{ stroke: "#000", strokeWidth: 1.3 }}
          tick={showX ? tickStyle : noTick}
          tickFormatter={(v: number) => v.toFixed(1).replace("-", "\u2212")}
        />
        <YAxis
          dataKey="y"
          type="number"
          domain={[YMIN, YMAX]}
          ticks={yTicks}
          allowDataOverflow
          interval={0}
          width={yAxisW}
          axisLine={false}
          tickSize={-11}
          tickMargin={17}
          tickLine={{ stroke: "#000", strokeWidth: 1.3 }}
          tick={showY ? tickStyle : noTick}
          tickFormatter={(v: number) => v.toFixed(3)}
        />
        <ReferenceArea x1={-0.2} x2={0.2} y1={YMIN} y2={YMAX} fill="none" stroke="#000" strokeWidth={1.5} />
        {bins && (
          <Scatter data={bins} shape={noDot} isAnimationActive={false}>
            <ErrorBar dataKey="e" direction="y" width={0} stroke="#000" strokeWidth={3.8} isAnimationActive={false} />
          </Scatter>
        )}
        <Scatter data={toPoints(p.raw)} shape={dot(p.bins ? 3 : 3.4, p.rawColor)} isAnimationActive={false} />
        {bins && <Scatter data={bins} shape={dot(4.2, p.color)} isAnimationActive={false} />}
        <Line
          data={toPoints(p.model)}
          dataKey="y"
          type="linear"
          stroke={p.color}
          strokeWidth={p.width || 11.5}
          strokeLinejoin="round"
          dot={false}
          activeDot={false}
          isAnimationActive={false}
          zIndex={700}
        />
        <text x={labelX} y={labelY} fontSize={FS} fontFamily={FONT} fill="#000" style={{ whiteSpace: "pre" }}>
          {p.name}
          {p.band && <tspan fontStyle="italic">{p.band}</tspan>}
          {p.sub && (
            <tspan fontStyle="italic" fontSize={19} dy={6}>
              {p.sub}
            </tspan>
          )}
          {p.plus && <tspan dx={-1}> + </tspan>}
          {p.plus && <tspan dx={-1} fontStyle="italic">{p.plus}</tspan>}
        </text>
        {p.date && (
          <text x={labelX} y={M.top + p.dateY} fontSize={FS} fontFamily={FONT} fill="#000">
            {p.date}
          </text>
        )}
        {p.col === 0 && (
          <text
            x={42}
            y={M.top + panelH / 2}
            fontSize={FS}
            fontFamily={FONT}
            fill="#000"
            textAnchor="middle"
            dominantBaseline="middle"
            transform={`rotate(-90 42 ${M.top + panelH / 2})`}
          >
            Norm. Flux
          </text>
        )}
        {p.phi && (
          <text
            x={yAxisW + panelW / 2}
            y={M.top + panelH + (p.row === 3 ? 61 : 35)}
            fontSize={FS}
            fontFamily={FONT}
            fill="#000"
            textAnchor="middle"
          >
            Φ
          </text>
        )}
      </ComposedChart>
    </div>
  );
};

export default function App() {
  return (
    <div style={{ position: "absolute", left: 0, top: 0, width: 2000, height: 2000, background: "#fff", fontFamily: FONT }}>
      <svg width={2000} height={90} style={{ position: "absolute", left: 0, top: 0 }}>
        <text x={1000} y={66} fontSize={33} fontFamily={FONT} textAnchor="middle" fill="#000">
          TOI-2445 b
        </text>
      </svg>
      {panels.map((p) => (
        <Panel key={`${p.row}-${p.col}`} p={p} />
      ))}
    </div>
  );
}
